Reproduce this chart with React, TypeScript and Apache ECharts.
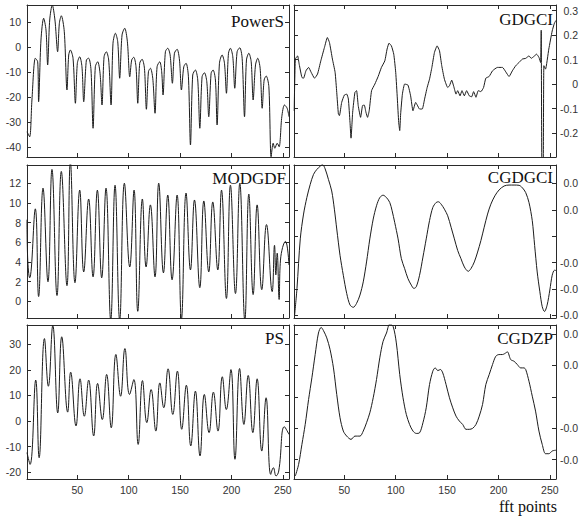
import React, { useEffect, useRef } from "react";
import * as echarts from "echarts";

const xTicks = [50, 100, 150, 200, 250];
const powerSTicks = [-40, -30, -20, -10, 0, 10];
const modgdfTicks = [0, 2, 4, 6, 8, 10, 12];
const psTicks = [-20, -10, 0, 10, 20, 30];
const gdgciTicks = [-0.2, -0.1, 0, 0.1, 0.2, 0.3];
const cgdgciTicks = [-0.06, -0.04, -0.02, 0, 0.02, 0.04];
const cgdzpTicks = [-0.04, -0.02, 0, 0.02, 0.04];

const powerS = [
  [1.0, -33.9], [3.6, -35.9], [5.8, -21.2], [9.1, -4.5], [11.4, -5.9], [12.3, -21.9], [14.6, 2.8], [17.2, 11.5],
  [19.5, 6.8], [21.1, -7.2], [23.1, 10.8], [25.6, 16.8], [28.2, 10.8], [30.8, -1.9], [32.5, 9.5], [34.4, 12.5],
  [37.3, 6.1], [39.9, -17.2], [41.6, -3.2], [43.2, -1.2], [45.8, -4.5], [48.1, -22.5], [50.0, -6.5], [52.3, -3.9],
  [54.5, -7.9], [56.2, -21.9], [58.8, -5.2], [61.0, -4.5], [63.3, -9.2], [65.3, -32.5], [67.5, -7.9], [69.8, -5.9],
  [72.1, -10.5], [74.0, -23.2], [76.0, -3.9], [78.2, -1.9], [80.5, -5.2], [82.8, -23.2], [84.7, 1.5], [87.0, 5.5],
  [89.3, 2.1], [91.2, -12.5], [93.5, 4.8], [96.1, 7.5], [98.7, 2.1], [101.0, -11.9], [102.9, -5.2], [104.9, -4.1],
  [107.1, -7.9], [108.8, -22.5], [110.7, -6.5], [113.0, -4.9], [115.3, -8.5], [117.2, -24.9], [119.2, -9.9], [121.1, -8.5],
  [123.4, -12.5], [125.6, -26.5], [127.6, -7.9], [130.2, -5.9], [132.1, -9.9], [133.4, -19.2], [135.7, -1.9], [138.0, -0.5],
  [140.3, -3.2], [142.5, -14.5], [144.5, -2.5], [147.1, -0.9], [149.4, -5.2], [151.3, -17.2], [153.6, -7.9], [155.8, -6.5],
  [158.1, -11.9], [160.1, -39.2], [162.3, -11.2], [164.9, -9.2], [167.2, -13.2], [169.2, -32.5], [171.4, -11.9], [173.7, -10.3],
  [176.0, -13.9], [177.9, -27.9], [180.2, -10.5], [182.1, -9.2], [184.4, -13.2], [186.0, -31.2], [188.3, -6.5], [190.9, -3.2],
  [193.2, -6.5], [195.1, -18.5], [197.1, -2.5], [199.0, -0.5], [201.3, -3.9], [203.2, -16.5], [205.5, -1.9], [208.1, -0.3],
  [210.4, -4.5], [212.7, -27.9], [214.6, -5.2], [216.9, -2.5], [219.2, -5.9], [221.1, -21.2], [223.4, -7.2], [225.6, -4.5],
  [227.9, -8.5], [229.9, -24.5], [231.8, -13.2], [233.8, -11.6], [236.4, -15.9], [238.6, -43.9], [240.6, -38.5], [242.2, -40.5],
  [244.5, -38.5], [246.4, -39.9], [249.0, -27.9], [251.6, -23.2], [254.2, -24.5], [256.0, -27.9],
];

const modgdf = [
  [1.0, 8.3], [1.6, 4.5], [3.6, 2.4], [9.1, 9.4], [12.3, 0.5], [16.6, 11.5], [21.4, 2.0], [25.3, 13.4],
  [30.2, 0.6], [34.4, 13.2], [39.9, 1.6], [43.2, 14.2], [47.7, 1.9], [52.3, 11.3], [56.2, 3.0], [61.0, 10.4],
  [65.3, 2.5], [69.5, 11.3], [73.7, 2.4], [77.9, 11.5], [82.5, -1.9], [86.7, 11.8], [91.2, -1.9], [95.8, 12.0],
  [101.0, 3.5], [105.2, 11.3], [108.8, -1.0], [113.3, 10.4], [116.9, 3.5], [121.1, 9.8], [125.6, 2.5], [129.2, 12.0],
  [133.8, 2.9], [138.0, 10.8], [142.2, 2.2], [147.1, 10.8], [151.3, -1.8], [155.8, 11.0], [160.1, 3.2], [164.0, 10.3],
  [169.2, 1.4], [173.1, 10.2], [177.9, 3.0], [181.8, 10.1], [186.7, 3.2], [190.3, 11.3], [195.1, 0.3], [199.0, 11.8],
  [203.9, 0.8], [208.1, 12.0], [213.0, -1.9], [216.9, 10.9], [221.1, 0.7], [225.0, 9.8], [229.5, 1.2], [234.1, 7.8],
  [239.6, 1.0], [241.9, 5.7], [243.2, 2.7], [244.5, 4.9], [246.4, 0.2], [247.7, 4.2], [252.6, 6.1], [256.0, 3.7],
];

const ps = [
  [1.0, -12.3], [4.0, -16.9], [9.5, 16.0], [12.8, -14.3], [18.0, 32.2], [21.8, 13.6], [26.1, 37.3], [30.9, 3.2],
  [34.8, 32.9], [40.6, 3.5], [43.5, 19.1], [48.7, -1.9], [52.6, 16.5], [56.8, 1.9], [61.0, 16.0], [65.9, -5.8],
  [69.7, 14.7], [74.3, 0.6], [78.5, 18.2], [83.0, -2.6], [87.5, 26.0], [92.1, 9.7], [96.3, 28.3], [100.8, 10.4],
  [105.0, 16.2], [109.2, -9.1], [113.4, 15.8], [117.6, -0.6], [121.8, 12.3], [126.4, -3.9], [130.3, 14.9], [134.1, 5.2],
  [138.3, 20.4], [142.9, 2.6], [147.4, 19.5], [151.6, -3.2], [156.1, 14.0], [160.4, -9.7], [164.9, 11.7], [169.4, -13.6],
  [173.6, 10.4], [178.2, -4.5], [182.4, 11.3], [186.9, -3.9], [191.1, 17.3], [195.0, 4.5], [199.5, 20.1], [203.4, -14.9],
  [207.9, 20.5], [212.1, -1.3], [216.3, 17.8], [220.8, -4.5], [225.0, 16.5], [229.5, -11.7], [233.7, 9.1], [238.2, -20.8],
  [240.8, -18.2], [243.4, -21.4], [246.0, -19.5], [251.5, -2.2], [256.0, -5.2],
];

const gdgci = [
  [1.2, -0.11], [2.3, 0.102], [4.5, 0.115], [6.1, 0.08], [8.7, 0.027], [10.3, 0.024], [12.6, 0.054], [15.2, 0.068],
  [17.7, 0.048], [21.0, 0.024], [23.9, 0.041], [27.1, 0.095], [30.6, 0.149], [33.5, 0.19], [35.5, 0.17], [38.4, 0.102],
  [41.0, 0.048], [42.6, -0.034], [44.2, -0.122], [45.2, -0.129], [47.4, -0.075], [50.0, -0.045], [52.3, -0.041], [53.9, -0.061],
  [55.5, -0.156], [56.5, -0.221], [58.1, -0.115], [60.3, -0.034], [61.9, -0.027], [63.5, -0.088], [65.8, -0.136], [67.7, -0.088],
  [69.4, -0.086], [71.0, -0.115], [72.6, -0.136], [74.2, -0.109], [76.5, -0.027], [79.7, 0.0], [82.9, 0.031], [86.1, 0.068],
  [89.4, 0.095], [91.6, 0.143], [93.5, 0.167], [95.8, 0.156], [98.1, 0.122], [100.0, 0.048], [101.6, -0.061], [102.9, -0.156],
  [103.9, -0.19], [104.8, -0.122], [106.5, -0.041], [108.7, 0.0], [111.9, -0.004], [114.5, -0.048], [116.8, -0.109], [119.4, -0.075],
  [121.0, -0.086], [123.2, -0.102], [125.8, -0.102], [128.1, -0.061], [130.6, -0.014], [132.9, 0.02], [135.2, 0.068], [137.7, 0.129],
  [140.3, 0.156], [142.6, 0.136], [144.8, 0.075], [147.4, 0.02], [150.6, -0.014], [152.3, -0.007], [154.5, 0.016], [156.5, -0.01],
  [158.7, -0.041], [160.3, -0.027], [162.6, -0.048], [164.5, -0.027], [166.8, -0.048], [169.0, -0.027], [171.6, -0.048], [173.9, -0.052],
  [175.8, -0.031], [178.1, -0.054], [180.3, -0.027], [182.9, -0.031], [185.5, -0.014], [187.7, 0.024], [190.9, 0.031], [194.2, 0.054],
  [199.0, 0.068], [203.9, 0.068], [207.1, 0.05], [210.3, 0.031], [213.5, 0.054], [216.8, 0.075], [220.0, 0.088], [223.2, 0.102],
  [226.5, 0.105], [229.7, 0.115], [231.9, 0.105], [234.5, 0.113], [237.1, 0.122], [239.4, 0.109], [241.0, 0.088], [241.6, 0.22],
  [242.3, -0.35], [243.5, -0.35], [244.2, 0.075], [245.8, 0.061], [249.0, 0.143], [252.3, 0.217], [254.5, 0.249], [256.0, 0.26],
];

const cgdgci = [
  [1.6, -0.0597], [3.9, -0.0396], [7.1, -0.002], [10.3, 0.0168], [13.5, 0.0293], [16.8, 0.0393], [20.0, 0.0469], [23.2, 0.0506],
  [26.5, 0.0531], [28.7, 0.0544], [31.3, 0.0511], [34.5, 0.0431], [37.7, 0.0343], [40.3, 0.0205], [42.6, 0.0055], [45.8, -0.0145],
  [49.0, -0.0296], [52.3, -0.0434], [55.5, -0.0521], [58.7, -0.0539], [61.9, -0.0509], [65.2, -0.0446], [68.4, -0.0346], [71.6, -0.0195],
  [74.8, -0.002], [78.1, 0.013], [81.3, 0.0231], [84.5, 0.0293], [87.7, 0.0311], [91.0, 0.0293], [94.2, 0.0256], [96.5, 0.0193],
  [99.0, 0.0105], [102.3, -0.002], [105.5, -0.017], [108.7, -0.0246], [111.9, -0.0321], [115.2, -0.0371], [117.7, -0.0396], [120.0, -0.0383],
  [123.2, -0.0296], [126.5, -0.0158], [129.7, -0.002], [132.9, 0.0118], [136.1, 0.0218], [139.4, 0.0256], [141.6, 0.0261], [144.2, 0.0243],
  [147.4, 0.0205], [150.6, 0.0155], [153.9, 0.0068], [157.1, -0.002], [160.3, -0.0108], [163.5, -0.017], [166.8, -0.0233], [170.6, -0.0266],
  [173.2, -0.0246], [176.5, -0.0195], [179.7, -0.012], [182.9, -0.0033], [186.1, 0.0068], [189.4, 0.0168], [192.6, 0.0243], [196.5, 0.0306],
  [200.6, 0.0351], [205.5, 0.0381], [210.3, 0.0388], [215.2, 0.0388], [220.0, 0.0386], [223.2, 0.0368], [226.5, 0.0331], [229.7, 0.0256],
  [232.9, 0.0118], [235.2, -0.007], [237.7, -0.0271], [240.3, -0.0421], [242.6, -0.0534], [244.8, -0.0571], [247.4, -0.0521], [250.0, -0.0408],
  [252.3, -0.0296], [254.5, -0.0258], [256.0, -0.026],
];

const cgdzp = [
  [2.3, -0.0504], [5.5, -0.043], [8.7, -0.0303], [11.9, -0.0176], [15.2, -0.0017], [18.4, 0.0121], [21.6, 0.0269], [24.8, 0.0406],
  [27.4, 0.0442], [29.7, 0.0421], [32.9, 0.0375], [36.1, 0.0301], [39.4, 0.0184], [42.6, 0.0015], [45.8, -0.0133], [49.0, -0.0218],
  [52.3, -0.025], [56.5, -0.0271], [60.3, -0.025], [65.2, -0.025], [68.4, -0.0218], [71.6, -0.0165], [74.8, -0.0102], [78.1, -0.0006],
  [81.3, 0.011], [84.5, 0.0248], [87.7, 0.0353], [91.0, 0.0406], [94.2, 0.0463], [97.4, 0.0449], [100.6, 0.0343], [103.9, 0.0142],
  [107.1, -0.0006], [110.3, -0.0112], [113.5, -0.0176], [116.8, -0.0218], [120.0, -0.0233], [123.2, -0.0229], [126.5, -0.0165], [129.7, -0.007],
  [132.9, 0.0078], [136.1, 0.0163], [138.4, 0.0184], [141.0, 0.0167], [143.5, 0.0174], [145.8, 0.0152], [149.0, 0.0078], [152.3, -0.0006],
  [155.5, -0.007], [158.7, -0.0123], [161.9, -0.0154], [165.2, -0.0176], [168.4, -0.0207], [171.6, -0.0207], [174.8, -0.0201], [178.1, -0.0176],
  [181.3, -0.0123], [184.5, -0.0049], [187.7, 0.0078], [191.0, 0.0142], [194.2, 0.0205], [197.4, 0.0258], [200.6, 0.0269], [203.9, 0.0269],
  [206.1, 0.0275], [208.7, 0.0286], [211.9, 0.0237], [215.2, 0.0226], [218.4, 0.0205], [221.6, 0.0184], [224.8, 0.0184], [226.5, 0.0174],
  [229.7, 0.0099], [232.9, 0.0004], [236.1, -0.0091], [239.4, -0.0218], [242.6, -0.0303], [245.8, -0.0362], [249.0, -0.0362], [252.3, -0.0345],
  [254.5, -0.0341], [256.0, -0.034],
];

const truncFmt = (v: number) => (Math.abs(v) < 1e-9 ? "" : v > 0 ? "0.0" : "-0.0");
const oneDec = (v: number) => String(Math.round(v * 10) / 10);

const panels = [
  { title: "PowerS", data: powerS, col: 0, row: 0, min: -44, max: 16.8, ticks: powerSTicks, fmt: undefined as any, smooth: 0.3, tx: 284, ty: 21 },
  { title: "MODGDF", data: modgdf, col: 0, row: 1, min: -1.68, max: 13.85, ticks: modgdfTicks, fmt: undefined as any, smooth: 0.45, tx: 286, ty: 178 },
  { title: "PS", data: ps, col: 0, row: 2, min: -22.6, max: 37.5, ticks: psTicks, fmt: undefined as any, smooth: 0.45, tx: 284, ty: 338 },
  { title: "GDGCI", data: gdgci, col: 1, row: 0, min: -0.298, max: 0.323, ticks: gdgciTicks, fmt: oneDec, smooth: 0.15, tx: 553, ty: 19 },
  { title: "CGDGCI", data: cgdgci, col: 1, row: 1, min: -0.062, max: 0.054, ticks: cgdgciTicks, fmt: truncFmt, smooth: 0.3, tx: 553, ty: 177 },
  { title: "CGDZP", data: cgdzp, col: 1, row: 2, min: -0.0523, max: 0.0457, ticks: cgdzpTicks, fmt: truncFmt, smooth: 0.3, tx: 553, ty: 338 },
];

const rows = [
  { top: 5, h: 152 },
  { top: 165, h: 153 },
  { top: 325, h: 154 },
];
const colLeft = [27, 294];
const panelW = 262;

const AXIS_COLOR = "#2a2a2a";
const LABEL_COLOR = "#333333";
const LINE_COLOR = "#1c1c1c";

function buildOption() {
  const grid: any[] = [];
  const xAxis: any[] = [];
  const yAxis: any[] = [];
  const series: any[] = [];
  const graphic: any[] = [];
  const lineStyle = { color: AXIS_COLOR, width: 1 };
  const tick = (vals: number[]) => ({ show: true, inside: true, length: 4, lineStyle, customValues: vals });

  panels.forEach((p, i) => {
    const r = rows[p.row];
    grid.push({ left: colLeft[p.col], top: r.top, width: panelW, height: r.h, containLabel: false });
    xAxis.push({
      type: "value", gridIndex: i, min: 1, max: 256, position: "bottom",
      axisLine: { show: true, onZero: false, lineStyle },
      axisTick: tick(xTicks),
      axisLabel: {
        show: p.row === 2, customValues: xTicks, fontSize: 10.5, fontFamily: "Liberation Sans, Arial, sans-serif",
        color: LABEL_COLOR, margin: 5,
      },
      splitLine: { show: false },
    });
    xAxis.push({
      type: "value", gridIndex: i, min: 1, max: 256, position: "top",
      axisLine: { show: true, onZero: false, lineStyle },
      axisTick: tick(xTicks),
      axisLabel: { show: false },
      splitLine: { show: false },
    });
    const labelsLeft = p.col === 0;
    yAxis.push({
      type: "value", gridIndex: i, min: p.min, max: p.max, position: labelsLeft ? "left" : "right",
      axisLine: { show: true, onZero: false, lineStyle },
      axisTick: tick(p.ticks),
      axisLabel: {
        show: true, customValues: p.ticks, fontSize: 10.5, fontFamily: "Liberation Sans, Arial, sans-serif",
        color: LABEL_COLOR, margin: labelsLeft ? 6 : 22, align: "right",
        formatter: p.fmt ? (v: number) => p.fmt(v) : undefined,
      },
      splitLine: { show: false },
    });
    yAxis.push({
      type: "value", gridIndex: i, min: p.min, max: p.max, position: labelsLeft ? "right" : "left",
      axisLine: { show: true, onZero: false, lineStyle },
      axisTick: tick(p.ticks),
      axisLabel: { show: false },
      splitLine: { show: false },
    });
    series.push({
      type: "line", name: p.title, xAxisIndex: 2 * i, yAxisIndex: 2 * i, data: p.data,
      showSymbol: false, symbol: "none", smooth: p.smooth, clip: true, silent: true,
      lineStyle: { color: LINE_COLOR, width: 1 },
    });
    graphic.push({
      type: "text", x: p.tx, y: p.ty, silent: true,
      style: {
        text: p.title, font: '17px "Liberation Serif", "Times New Roman", serif', fill: "#111111",
        textAlign: "right", textVerticalAlign: "middle", align: "right", verticalAlign: "middle",
      },
    });
  });

  graphic.push({
    type: "text", x: 557, y: 506, silent: true,
    style: {
      text: "fft points", font: '16px "Liberation Serif", "Times New Roman", serif', fill: "#111111",
      textAlign: "right", textVerticalAlign: "middle", align: "right", verticalAlign: "middle",
    },
  });

  return { animation: false, backgroundColor: "#ffffff", grid, xAxis, yAxis, series, graphic };
}

export default function App() {
  const ref = useRef<HTMLDivElement>(null);
  useEffect(() => {
    if (!ref.current) return;
    const chart = echarts.init(ref.current, undefined, { renderer: "svg" });
    chart.setOption(buildOption() as any);
    return () => chart.dispose();
  }, []);
  return (
    <div
      ref={ref}
      style={{ position: "fixed", left: 0, top: 0, width: 583, height: 519, background: "#fff" }}
    />
  );
}
